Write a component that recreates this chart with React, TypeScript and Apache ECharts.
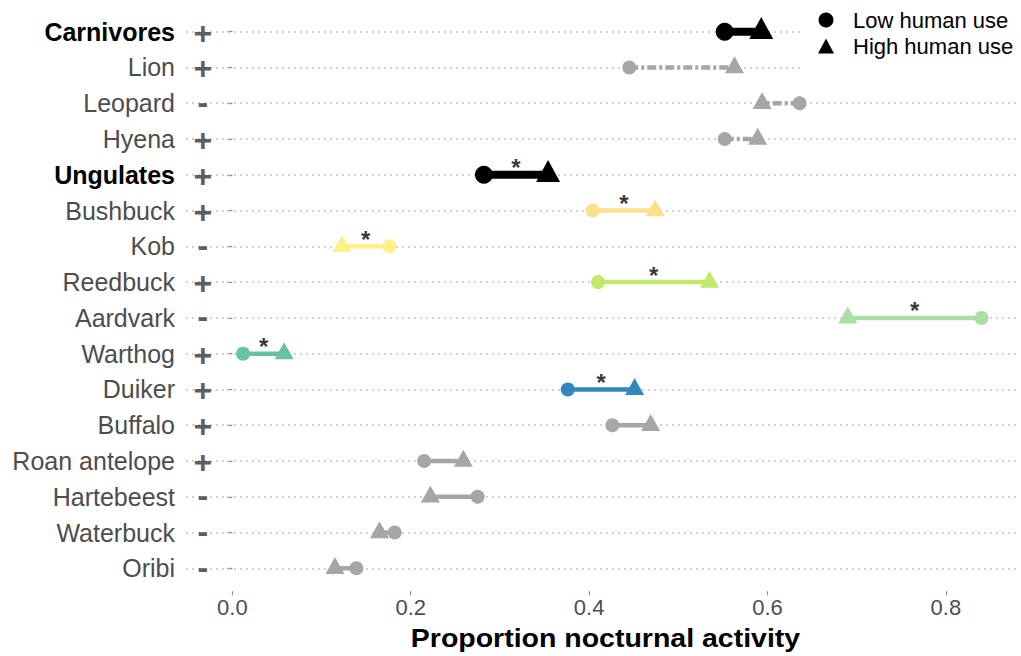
import React, { useEffect, useRef } from "react";
import * as echarts from "echarts";

// Species (top to bottom) and their response to human use
const categories = [
  "Carnivores", "Lion", "Leopard", "Hyena", "Ungulates", "Bushbuck", "Kob", "Reedbuck",
  "Aardvark", "Warthog", "Duiker", "Buffalo", "Roan antelope", "Hartebeest", "Waterbuck", "Oribi",
];
const signs = ["+", "+", "-", "+", "+", "+", "-", "+", "-", "+", "+", "+", "+", "-", "-", "-"];

// Proportion of nocturnal activity
const lowUse = [0.552, 0.445, 0.636, 0.552, 0.282, 0.404, 0.176, 0.41, 0.84, 0.012, 0.376, 0.426, 0.215, 0.275, 0.182, 0.139];
const highUse = [0.593, 0.563, 0.594, 0.589, 0.354, 0.474, 0.123, 0.535, 0.69, 0.058, 0.451, 0.469, 0.259, 0.222, 0.165, 0.115];
const significant = [false, false, false, false, true, true, true, true, true, true, true, false, false, false, false, false];

const xTicks = [0, 0.2, 0.4, 0.6, 0.8];

const groupRows = ["Carnivores", "Ungulates"];
const dashedRows = ["Lion", "Leopard", "Hyena"];
const rowColors = [
  "#000000", "#a6a6a6", "#a6a6a6", "#a6a6a6", "#000000", "#fee08b", "#fff18a", "#c2e96d",
  "#abdda4", "#66c2a5", "#3288bd", "#a6a6a6", "#a6a6a6", "#a6a6a6", "#a6a6a6", "#a6a6a6",
];

const FONT = "'Liberation Sans', Arial, Helvetica, sans-serif";
const SIGN_X = -0.033;

function buildOption() {
  const isGroup = (i: number) => groupRows.includes(categories[i]);

  const segData = categories.map((_, i) => [lowUse[i], highUse[i], i]);

  const lowData = categories.map((_, i) => ({
    value: [lowUse[i], i],
    symbolSize: isGroup(i) ? 18 : 14,
    itemStyle: { color: rowColors[i] },
  }));

  const highData = categories.map((_, i) => {
    const w = isGroup(i) ? 24 : 19;
    const h = isGroup(i) ? 22 : 17;
    return {
      value: [highUse[i], i],
      symbolSize: [w, h],
      symbolOffset: [0, -h / 6],
      itemStyle: { color: rowColors[i] },
    };
  });

  const starData = categories
    .map((_, i) => (significant[i] ? { value: [(lowUse[i] + highUse[i]) / 2, i] } : null))
    .filter((d) => d !== null);

  const signData = categories.map((_, i) => ({
    value: [SIGN_X, i],
    label: { formatter: signs[i], offset: [0, signs[i] === "+" ? 1 : -1.5] },
  }));

  return {
    animation: false,
    backgroundColor: "#ffffff",
    textStyle: { fontFamily: FONT },
    grid: { left: 186, right: 2, top: 13.8, bottom: 69.8, containLabel: false },
    legend: {
      data: [
        { name: "Low human use", icon: "circle", itemStyle: { color: "#000" } },
        { name: "High human use", icon: "triangle", itemStyle: { color: "#000" } },
      ],
      orient: "vertical",
      left: 800,
      top: 0,
      padding: [9, 10, 27, 18],
      itemWidth: 16,
      itemHeight: 15,
      itemGap: 4,
      backgroundColor: "#ffffff",
      textStyle: {
        fontSize: 22,
        color: "#000",
        fontFamily: FONT,
        padding: [0, 0, 0, 14],
      },
    },
    xAxis: {
      type: "value",
      min: -0.052,
      max: 0.882,
      offset: 5,
      axisLine: { show: false },
      splitLine: { show: false },
      axisTick: {
        show: true,
        length: 4,
        customValues: xTicks,
        lineStyle: { color: "#8c8c8c", width: 1.2 },
      },
      axisLabel: {
        customValues: xTicks,
        formatter: (v: number) => v.toFixed(1),
        fontSize: 22,
        color: "#4d4d4d",
        margin: 5,
        fontFamily: FONT,
      },
    },
    yAxis: {
      type: "category",
      data: categories,
      inverse: true,
      axisLine: { show: false },
      splitLine: { show: false },
      axisTick: {
        show: true,
        length: 5,
        alignWithLabel: true,
        interval: 0,
        lineStyle: { color: "#8c8c8c", width: 1.3 },
      },
      axisLabel: {
        interval: 0,
        margin: 11,
        formatter: (v: string) => (groupRows.includes(v) ? `{b|${v}}` : `{n|${v}}`),
        rich: {
          b: { fontSize: 25, fontWeight: "bold", color: "#000", fontFamily: FONT },
          n: { fontSize: 25, color: "#4d4d4d", fontFamily: FONT },
        },
      },
    },
    series: [
      {
        // dotted horizontal guides at every species row
        type: "line",
        data: [],
        silent: true,
        z: 1,
        markLine: {
          silent: true,
          z: 1,
          symbol: ["none", "none"],
          label: { show: false },
          lineStyle: { type: [2, 4], color: "#c4c4c4", width: 1.5 },
          data: categories.map((c) => ({ yAxis: c })),
        },
      },
      {
        // segments joining low and high human use
        type: "custom",
        silent: true,
        z: 2,
        encode: { x: [0, 1], y: 2 },
        data: segData,
        renderItem: (params: any, api: any) => {
          const i = params.dataIndex;
          const p1 = api.coord([api.value(0), api.value(2)]);
          const p2 = api.coord([api.value(1), api.value(2)]);
          const cat = categories[i];
          return {
            type: "line",
            shape: { x1: p1[0], y1: p1[1], x2: p2[0], y2: p2[1] },
            style: {
              stroke: rowColors[i],
              lineWidth: groupRows.includes(cat) ? 8 : 4.5,
              lineDash: dashedRows.includes(cat) ? [9, 3, 3, 3] : null,
              lineCap: "butt",
            },
          };
        },
      },
      {
        name: "Low human use",
        type: "scatter",
        symbol: "circle",
        z: 3,
        itemStyle: { color: "#000", opacity: 1 },
        data: lowData,
      },
      {
        name: "High human use",
        type: "scatter",
        symbol: "triangle",
        z: 3,
        itemStyle: { color: "#000", opacity: 1 },
        data: highData,
      },
      {
        // significance markers
        type: "scatter",
        symbolSize: 1,
        silent: true,
        z: 4,
        itemStyle: { color: "rgba(0,0,0,0)" },
        label: {
          show: true,
          position: "inside",
          formatter: "*",
          offset: [0, -7],
          fontSize: 24,
          fontWeight: "bold",
          color: "#000",
          fontFamily: FONT,
        },
        data: starData,
      },
      {
        // direction of change (+ / -)
        type: "scatter",
        symbolSize: 1,
        silent: true,
        z: 4,
        itemStyle: { color: "rgba(0,0,0,0)" },
        label: {
          show: true,
          position: "inside",
          fontSize: 32,
          fontWeight: "bold",
          lineHeight: 26,
          color: "#333333",
          fontFamily: FONT,
        },
        data: signData,
      },
    ],
    graphic: [
      {
        type: "text",
        x: 605.5,
        y: 639,
        scaleX: 1.14,
        silent: true,
        style: {
          text: "Proportion nocturnal activity",
          fontSize: 25,
          fontWeight: "bold",
          fontFamily: FONT,
          fill: "#000",
          align: "center",
          verticalAlign: "middle",
        },
      },
    ],
  };
}

export default function App() {
  const ref = useRef<HTMLDivElement>(null);

  useEffect(() => {
    if (!ref.current) return;
    const chart = echarts.init(ref.current, null, { renderer: "svg" });
    chart.setOption(buildOption() as any);
    return () => chart.dispose();
  }, []);

  return (
    <div
      ref={ref}
      style={{ position: "fixed", left: 0, top: 0, width: 1021, height: 656, background: "#fff" }}
    />
  );
}
